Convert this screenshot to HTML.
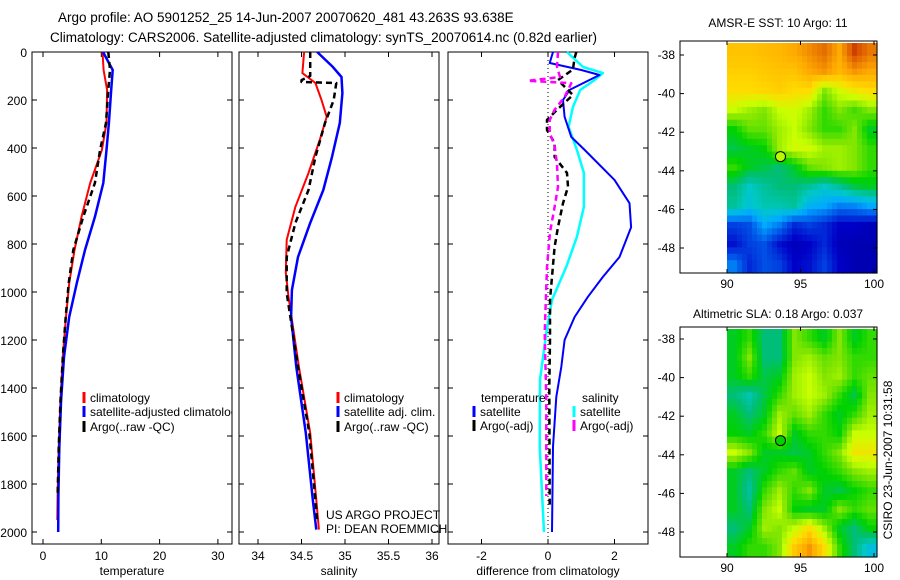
<!DOCTYPE html>
<html><head><meta charset="utf-8"><style>
body{margin:0;background:#fff;}
svg{display:block;font-family:"Liberation Sans",Arial,sans-serif;}
</style></head><body>
<svg id="fig" width="900" height="580" viewBox="0 0 900 580" xmlns="http://www.w3.org/2000/svg">
<defs><clipPath id="c1"><rect x="32" y="52" width="200" height="492"/></clipPath></defs>
<text x="58" y="22" font-size="13.5">Argo profile: AO 5901252_25 14-Jun-2007 20070620_481 43.263S 93.638E</text>
<text x="50" y="42" font-size="13.5">Climatology: CARS2006. Satellite-adjusted climatology: synTS_20070614.nc (0.82d earlier)</text>
<text x="778" y="27" font-size="12" text-anchor="middle">AMSR-E SST: 10 Argo: 11</text>
<text x="778" y="318" font-size="12" text-anchor="middle">Altimetric SLA: 0.18 Argo: 0.037</text>
<text transform="translate(892,460) rotate(-90)" font-size="12" text-anchor="middle">CSIRO 23-Jun-2007 10:31:58</text>
<g id="g"></g>
<text x="326" y="519" font-size="12">US ARGO PROJECT</text>
<text x="326" y="533" font-size="12">PI: DEAN ROEMMICH</text>
</svg>
<script>
// ---- profile data ----
const tempDepth = [0,75,158,296,408,546,687,825,963,1104,1271,1450,1650,1850,2000];
const tempSat  = [10.3,11.95,11.7,11.3,10.9,10.35,8.9,7.2,5.8,4.5,3.6,3.1,2.8,2.65,2.6];
const tempClimD = [0,75,158,296,408,546,687,825,963,1104,1271,1450,1650,1850,1950];
const tempClim = [10.2,10.4,11.0,10.9,10.1,8.1,6.6,5.4,4.5,3.95,3.4,3.0,2.7,2.5,2.45];
const tempArgoD = [0,75,158,296,408,546,687,825,963,1104,1271,1450,1650,1850];
const tempArgo = [11.2,11.5,11.2,10.8,9.8,8.9,6.9,5.2,4.4,3.9,3.4,3.0,2.7,2.5];
const salClimD = [0,88,129,200,270,366,504,645,783,920,1020,1312,1587,1866,1990];
const salClim  = [34.53,34.51,34.66,34.73,34.79,34.71,34.58,34.43,34.33,34.32,34.35,34.47,34.6,34.67,34.7];
const salSatD  = [0,62,104,171,296,437,575,712,854,992,1104,1312,1587,1866,1990];
const salSat   = [34.68,34.86,34.96,34.97,34.94,34.85,34.75,34.6,34.46,34.39,34.38,34.44,34.55,34.63,34.67];
const salArgoD = [0,100,117,125,129,200,296,437,575,712,854,1004,1312,1587,1866,1960];
const salArgo  = [34.6,34.6,34.5,34.5,34.9,34.87,34.77,34.66,34.58,34.43,34.33,34.33,34.46,34.59,34.66,34.68];
const dTSatD = [0,46,75,96,158,200,270,354,408,533,630,730,854,937,1020,1104,1200,1312,1437,1645,2000];
const dTSat  = [0.15,0.05,1.0,1.55,0.65,0.45,0.5,0.7,1.1,2.0,2.45,2.5,2.15,1.65,1.2,0.8,0.5,0.4,0.25,0.15,0.12];
const dSSatD = [0,62,88,117,158,229,312,408,504,645,770,895,1033,1170,1366,1645,2000];
const dSSat  = [0.57,1.05,1.65,1.4,0.97,0.75,0.62,0.87,1.08,1.08,0.87,0.55,0.12,-0.05,-0.24,-0.25,-0.12];
const dTArgoD = [0,25,73,117,179,241,283,325,379,437,504,562,630,729,812,1033,1200,1400,1900];
const dTArgo  = [0.85,0.8,0.75,0.3,0.75,0.27,-0.03,-0.03,0.2,0.2,0.57,0.6,0.45,0.3,0.2,0.06,0.06,0.04,0.05];
const dSArgoD = [0,62,104,120,130,187,241,283,337,390,470,562,660,750,895,1170,1450,1850];
const dSArgo  = [0.3,0.27,0.36,-0.6,0.7,0.5,0.2,0.05,0.05,0.2,0.27,0.3,0.18,0.06,-0.03,-0.1,-0.05,-0.05];
const depthTicks = [0,200,400,600,800,1000,1200,1400,1600,1800,2000];
const tempTicks = [0,10,20,30];
const salTicks = [34,34.5,35,35.5,36];
const diffTicks = [-2,0,2];
// ---- map data (colormap index 0..1), rows north->south, cols west->east ----
const sstGrid = [
[0.76,0.76,0.77,0.78,0.8,0.83,0.86,0.8,0.9,0.85],
[0.74,0.74,0.75,0.76,0.76,0.8,0.82,0.78,0.82,0.8],
[0.72,0.72,0.73,0.74,0.72,0.72,0.6,0.66,0.7,0.72],
[0.65,0.62,0.6,0.65,0.66,0.62,0.55,0.6,0.56,0.6],
[0.52,0.58,0.58,0.62,0.65,0.6,0.55,0.55,0.6,0.5],
[0.48,0.5,0.52,0.62,0.66,0.66,0.62,0.62,0.6,0.55],
[0.55,0.5,0.48,0.45,0.5,0.58,0.6,0.62,0.6,0.55],
[0.45,0.38,0.42,0.45,0.45,0.42,0.38,0.42,0.48,0.5],
[0.42,0.36,0.4,0.4,0.42,0.32,0.3,0.25,0.26,0.3],
[0.18,0.2,0.3,0.25,0.15,0.18,0.15,0.1,0.1,0.08],
[0.12,0.18,0.2,0.12,0.08,0.1,0.15,0.08,0.07,0.07],
[0.25,0.15,0.2,0.18,0.1,0.12,0.18,0.1,0.07,0.07]];
const slaGrid = [
[0.5,0.55,0.45,0.45,0.6,0.55,0.5,0.6,0.5,0.55],
[0.5,0.6,0.45,0.45,0.6,0.62,0.58,0.6,0.55,0.55],
[0.5,0.55,0.48,0.5,0.62,0.65,0.6,0.62,0.55,0.58],
[0.45,0.4,0.48,0.55,0.62,0.65,0.62,0.55,0.48,0.6],
[0.5,0.45,0.5,0.62,0.58,0.62,0.55,0.5,0.55,0.62],
[0.52,0.5,0.55,0.65,0.5,0.55,0.55,0.52,0.65,0.65],
[0.65,0.6,0.5,0.5,0.48,0.5,0.55,0.6,0.7,0.7],
[0.5,0.45,0.5,0.55,0.58,0.5,0.52,0.55,0.6,0.62],
[0.5,0.42,0.55,0.62,0.55,0.6,0.5,0.48,0.52,0.55],
[0.5,0.45,0.6,0.65,0.52,0.5,0.5,0.6,0.55,0.58],
[0.45,0.5,0.62,0.6,0.65,0.72,0.62,0.5,0.45,0.52],
[0.5,0.55,0.55,0.6,0.75,0.82,0.72,0.55,0.45,0.35]];
const argoLon = 93.638, argoLat = -43.263;
const lonTicks = [90,95,100];
const latTicks = [-38,-40,-42,-44,-46,-48];

const NS="http://www.w3.org/2000/svg";
const G=document.getElementById('g');
function mk(tag,attrs,parent){const e=document.createElementNS(NS,tag);for(const k in attrs)e.setAttribute(k,attrs[k]);(parent||G).appendChild(e);return e;}
const yD = d => 52 + d*0.24;
const panels = [
 {x0:32,x1:232,sx:v=>43+v*5.83,ticks:tempTicks,label:'temperature',name:'temperature'},
 {x0:239,x1:439,sx:v=>258+(v-34)*87,ticks:salTicks,label:'salinity',name:'salinity'},
 {x0:448,x1:648,sx:v=>548+v*33.25,ticks:diffTicks,label:'difference from climatology',name:'difference'}
];
panels.forEach((p,i)=>{
  const r=mk('rect',{x:p.x0,y:52,width:p.x1-p.x0,height:492,fill:'none',stroke:'#000','stroke-width':1});
  
  
  depthTicks.forEach(d=>{
    const y=yD(d);
    mk('line',{x1:p.x0,x2:p.x0+5,y1:y,y2:y,stroke:'#000'});
    mk('line',{x1:p.x1,x2:p.x1-5,y1:y,y2:y,stroke:'#000'});
    if(i===0){const t=mk('text',{x:27,y:y+5,'font-size':12,'text-anchor':'end'});t.textContent=d;
      
      }
  });
  p.ticks.forEach(v=>{
    const x=p.sx(v);
    mk('line',{x1:x,x2:x,y1:52,y2:57,stroke:'#000'});
    mk('line',{x1:x,x2:x,y1:544,y2:539,stroke:'#000'});
    const t=mk('text',{x:x,y:560,'font-size':12,'text-anchor':'middle'});t.textContent=v;
    
    
  });
  const t=mk('text',{x:(p.x0+p.x1)/2,y:575,'font-size':12,'text-anchor':'middle'});t.textContent=p.label;
  
  
});
const zl=mk('line',{x1:panels[2].sx(0),x2:panels[2].sx(0),y1:52,y2:544,stroke:'#000','stroke-dasharray':'1 3'});


function line(p,xs,ds,color,w,dash,name){
  const pts=xs.map((v,k)=>p.sx(v).toFixed(1)+','+yD(ds[k]).toFixed(1)).join(' ');
  const e=mk('polyline',{points:pts,fill:'none',stroke:color,'stroke-width':w,'stroke-linejoin':'round'});
  if(dash)e.setAttribute('stroke-dasharray',dash);
  
  
}
line(panels[0],tempClim,tempClimD,'#f00',2,null,'temp-climatology-line');
line(panels[0],tempSat,tempDepth,'#00f',2.5,null,'temp-satellite-line');
line(panels[0],tempArgo,tempArgoD,'#000',2.5,'6 4','temp-argo-line');
line(panels[1],salClim,salClimD,'#f00',2,null,'sal-climatology-line');
line(panels[1],salSat,salSatD,'#00f',2.5,null,'sal-satellite-line');
line(panels[1],salArgo,salArgoD,'#000',2.5,'6 4','sal-argo-line');
line(panels[2],dSSat,dSSatD,'#0ff',2.5,null,'sal-diff-satellite-line');
line(panels[2],dTSat,dTSatD,'#00f',2,null,'temp-diff-satellite-line');
line(panels[2],dTArgo,dTArgoD,'#000',2.5,'6 4','temp-diff-argo-line');
line(panels[2],dSArgo,dSArgoD,'#f0f',2.5,'6 4','sal-diff-argo-line');
function leg(x,y,color,label,name,clip){
  mk('line',{x1:x,x2:x,y1:y-10,y2:y+1,stroke:color,'stroke-width':3});
  const t=mk('text',{x:x+6,y:y,'font-size':12});t.textContent=label;
  if(clip)t.setAttribute('clip-path','url(#c1)');
  
  
}
leg(84,402,'#f00','climatology','legend-entry-climatology',1);
leg(84,416,'#00f','satellite-adjusted climatology','legend-entry-satellite',1);
leg(84,431,'#000','Argo(..raw -QC)','legend-entry-argo',1);
leg(338,402,'#f00','climatology','legend-entry-climatology');
leg(338,416,'#00f','satellite adj. clim.','legend-entry-satellite');
leg(338,431,'#000','Argo(..raw -QC)','legend-entry-argo');
{const t=mk('text',{x:481,y:402,'font-size':12});t.textContent='temperature';
 
 
 const s=mk('text',{x:582,y:402,'font-size':12});s.textContent='salinity';
 
 }
leg(474,416,'#00f','satellite','legend-entry-temp-satellite');
leg(474,430,'#000','Argo(-adj)','legend-entry-temp-argo');
leg(574,416,'#0ff','satellite','legend-entry-sal-satellite');
leg(574,430,'#f0f','Argo(-adj)','legend-entry-sal-argo');
// ---- maps ----
const stops=[[0,0,0,130],[0.1,0,0,200],[0.2,0,80,230],[0.3,0,170,255],[0.38,0,200,200],[0.45,0,190,120],[0.52,0,210,0],[0.6,130,230,0],[0.65,200,255,0],[0.72,255,220,0],[0.8,255,170,0],[0.88,220,90,0],[0.95,170,0,0],[1,140,0,0]];
function cmap(v){
  v=Math.max(0,Math.min(1,v));
  for(let i=1;i<stops.length;i++){if(v<=stops[i][0]){const a=stops[i-1],b=stops[i],t=(v-a[0])/(b[0]-a[0]);
    return `rgb(${Math.round(a[1]+t*(b[1]-a[1]))},${Math.round(a[2]+t*(b[2]-a[2]))},${Math.round(a[3]+t*(b[3]-a[3]))})`;}}
  return 'rgb(140,0,0)';
}
function sample(grid,fr,fc){
  const R=grid.length,C=grid[0].length;
  fr=Math.max(0,Math.min(R-1,fr));fc=Math.max(0,Math.min(C-1,fc));
  const r0=Math.floor(fr),c0=Math.floor(fc),r1=Math.min(R-1,r0+1),c1=Math.min(C-1,c0+1),tr=fr-r0,tc=fc-c0;
  return (grid[r0][c0]*(1-tc)+grid[r0][c1]*tc)*(1-tr)+(grid[r1][c0]*(1-tc)+grid[r1][c1]*tc)*tr;
}
function map(grid,top,bot,lat38y,name,dotVal){
  const sx=lon=>727+(lon-90)*14.7;
  const sy=lat=>lat38y+(-38-lat)*19.3;
  const rows=grid.length, cols=grid[0].length, SUB=3;
  const x0=727,x1=877,y0=top+2,y1=bot;
  const nr=rows*SUB,nc=cols*SUB,cw=(x1-x0)/nc,ch=(y1-y0)/nr;
  for(let r=0;r<nr;r++)for(let c=0;c<nc;c++){
    const v=sample(grid,(r+0.5)/SUB-0.5,(c+0.5)/SUB-0.5);
    const e=mk('rect',{x:(x0+c*cw).toFixed(1),y:(y0+r*ch).toFixed(1),width:(cw+0.6).toFixed(1),height:(ch+0.6).toFixed(1),fill:cmap(v)});
    
    
  }
  const f=mk('rect',{x:680,y:top,width:197,height:bot-top,fill:'none',stroke:'#000'});
  
  
  lonTicks.forEach(l=>{const x=sx(l);mk('line',{x1:x,x2:x,y1:bot,y2:bot-4,stroke:'#000'});mk('line',{x1:x,x2:x,y1:top,y2:top+4,stroke:'#000'});
    const t=mk('text',{x:x,y:bot+15,'font-size':12,'text-anchor':'middle'});t.textContent=l;
    
    });
  latTicks.forEach(l=>{const y=sy(l);mk('line',{x1:680,x2:684,y1:y,y2:y,stroke:'#000'});mk('line',{x1:877,x2:873,y1:y,y2:y,stroke:'#000'});
    const t=mk('text',{x:675,y:y+4,'font-size':12,'text-anchor':'end'});t.textContent=l;
    
    });
  const c=mk('circle',{cx:sx(argoLon),cy:sy(argoLat),r:5,fill:cmap(dotVal),stroke:'#000','stroke-width':1});
  
  
}
map(sstGrid,41,273,55,'sst-map',0.64);
map(slaGrid,327,557,339,'sla-map',0.52);
</script>
</body></html>
